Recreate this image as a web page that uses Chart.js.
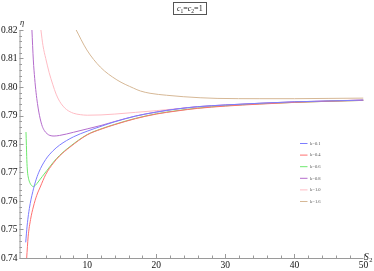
<!DOCTYPE html>
<html><head><meta charset="utf-8">
<script src="https://cdn.jsdelivr.net/npm/chart.js@4"></script>
<style>html,body{margin:0;padding:0;background:#fff;}#wrap{width:374px;height:271px;position:relative;}</style>
</head><body><div id="wrap"><canvas id="c" width="374" height="271"></canvas></div>
<script>
// ---- data ----
const seriesLabels = ['k=0.1', 'k=0.4', 'k=0.6', 'k=0.8', 'k=1.0', 'k=1.6'];
const titleParts = ['c', '1', '=', 'c', '2', '=1'];
const yAxisTitle = 'η';
const xAxisTitle = ['S', '2'];

const s2_k01  = [1.1, 1.3, 1.5, 1.75, 2.0, 2.5, 3.0, 4.0, 5.0, 6.0, 8.0, 10, 12, 14, 17, 20, 23, 26, 30, 35, 40, 45, 50];
const eta_k01 = [0.7455, 0.7512, 0.7553, 0.7591, 0.7620, 0.7667, 0.7701, 0.7746, 0.7775, 0.7796, 0.7825, 0.7845, 0.7862, 0.7878, 0.7898, 0.7912, 0.7923, 0.7931, 0.7937, 0.7943, 0.7948, 0.7951, 0.7954];

const s2_k04  = [1.24, 1.45, 1.8, 2.2, 2.7, 3.2, 4.0, 5.1, 6.0, 7.5, 10, 12, 14, 17, 20, 23, 26, 30, 35, 40, 45, 50];
const eta_k04 = [0.7400, 0.7474, 0.7535, 0.7579, 0.7620, 0.7649, 0.7693, 0.7733, 0.7758, 0.7789, 0.7832, 0.7852, 0.7868, 0.7889, 0.7905, 0.7916, 0.7925, 0.7933, 0.7940, 0.7946, 0.7950, 0.7953];

const s2_k06  = [1.14, 1.2, 1.26, 1.35, 1.5, 1.7, 2.0, 2.2, 2.5, 3.0, 3.5, 4.2, 5.1, 6.0, 7.5, 10, 12, 14, 17, 20, 23, 26, 30, 35, 40, 45, 50];
const eta_k06 = [0.7842, 0.7795, 0.7745, 0.7705, 0.7680, 0.7664, 0.7653, 0.7651, 0.7655, 0.7670, 0.7686, 0.7708, 0.7736, 0.7760, 0.7791, 0.7833, 0.7853, 0.7869, 0.7890, 0.7906, 0.7917, 0.7926, 0.7934, 0.7941, 0.7946, 0.7950, 0.7953];

const s2_k08  = [2.0, 2.2, 2.4, 2.6, 2.8, 3.0, 3.2, 3.5, 3.8, 4.2, 4.6, 5.2, 6.0, 7.0, 8.0, 10, 12, 14, 17, 20, 23, 26, 30, 35, 40, 45, 50];
const eta_k08 = [0.8200, 0.8095, 0.8030, 0.7980, 0.7942, 0.7912, 0.7888, 0.7862, 0.7847, 0.7836, 0.7830, 0.7828, 0.7830, 0.7835, 0.7841, 0.7853, 0.7865, 0.7879, 0.7898, 0.7912, 0.7923, 0.7931, 0.7937, 0.7943, 0.7948, 0.7951, 0.7954];

const s2_k10  = [3.3, 3.6, 4.0, 4.5, 5.0, 5.5, 6.0, 6.5, 7.0, 8.0, 9.0, 10, 12, 14, 17, 20, 25, 30, 35, 40, 45, 50];
const eta_k10 = [0.8200, 0.8145, 0.8100, 0.8050, 0.8010, 0.7975, 0.7950, 0.7933, 0.7921, 0.7908, 0.7903, 0.7901, 0.7902, 0.7905, 0.7911, 0.7917, 0.7928, 0.7936, 0.7942, 0.7947, 0.7951, 0.7955];

const s2_k16  = [8.3, 9.95, 11.9, 14.3, 16.7, 17.7, 19.1, 21.5, 23.9, 28.8, 35, 40, 45, 50];
const eta_k16 = [0.8205, 0.8130, 0.8070, 0.8025, 0.7996, 0.7986, 0.7978, 0.7971, 0.7966, 0.7960, 0.7959, 0.7959, 0.7960, 0.7961];

// ---- styles ----
const lineColors = ['#7d7dff', '#ff6f6f', '#6ee86e', '#b46ccc', '#ffbcc4', '#d6b896'];
const serif = '"Liberation Serif", "DejaVu Serif", serif';

function pts(xs, ys) { return xs.map((x, i) => ({x: x, y: ys[i]})); }
const xsAll = [s2_k01, s2_k04, s2_k06, s2_k08, s2_k10, s2_k16];
const ysAll = [eta_k01, eta_k04, eta_k06, eta_k08, eta_k10, eta_k16];

const datasets = seriesLabels.map((lab, i) => ({
  label: lab,
  data: pts(xsAll[i], ysAll[i]),
  showLine: true,
  borderColor: lineColors[i],
  backgroundColor: lineColors[i],
  borderWidth: 1,
  pointRadius: 0,
  cubicInterpolationMode: 'monotone',
  fill: false
}));

function isMult(v, step) { const r = v / step; return Math.abs(r - Math.round(r)) < 1e-6; }

const decor = {
  id: 'decor',
  afterDatasetsDraw(chart) {
    const ctx = chart.ctx, a = chart.chartArea;
    const xs = chart.scales.x, ys = chart.scales.y;
    ctx.save();
    ctx.strokeStyle = '#9a9a9a';
    ctx.lineWidth = 1;
    ctx.beginPath();
    ctx.moveTo(a.left, a.bottom + 0.5); ctx.lineTo(a.right, a.bottom + 0.5);
    ctx.moveTo(a.left + 0.5, a.bottom); ctx.lineTo(a.left + 0.5, a.top);
    ctx.stroke();
    ctx.beginPath();
    xs.ticks.forEach(t => {
      if (!isMult(t.value, 2)) return;
      const len = isMult(t.value, 10) ? 4 : 2.5;
      const px = Math.round(xs.getPixelForValue(t.value)) + 0.5;
      ctx.moveTo(px, a.bottom); ctx.lineTo(px, a.bottom - len);
    });
    ys.ticks.forEach(t => {
      if (!isMult(t.value, 0.002)) return;
      const len = isMult(t.value, 0.01) ? 4 : 2.5;
      const py = Math.round(ys.getPixelForValue(t.value)) + 0.5;
      ctx.moveTo(a.left, py); ctx.lineTo(a.left + len, py);
    });
    ctx.stroke();

    ctx.fillStyle = '#222';
    ctx.textBaseline = 'alphabetic';
    ctx.textAlign = 'left';
    ctx.font = 'italic 8.5px ' + serif;
    ctx.fillText(yAxisTitle, a.left + 0.5, 24.5);
    ctx.font = 'italic 9.5px ' + serif;
    ctx.fillText(xAxisTitle[0], 364, 259.5);
    ctx.font = '6.5px ' + serif;
    ctx.fillText(xAxisTitle[1], 369.3, 262);

    ctx.strokeStyle = '#555';
    ctx.lineWidth = 1;
    ctx.strokeRect(173.5, 2.5, 33, 12);
    let x = 177;
    const base = 11.3;
    titleParts.forEach((p) => {
      if (p === 'c') { ctx.font = 'italic 8px ' + serif; ctx.fillText(p, x, base); x += ctx.measureText(p).width; }
      else if (p === '1' || p === '2') { ctx.font = '5.5px ' + serif; ctx.fillText(p, x, base + 1.8); x += ctx.measureText(p).width; }
      else { ctx.font = '8px ' + serif; ctx.fillText(p, x, base); x += ctx.measureText(p).width; }
    });

    ctx.textBaseline = 'middle';
    ctx.font = '4.6px ' + serif;
    chart.data.datasets.forEach((ds, i) => {
      const y = 143.5 + i * 11.6;
      ctx.strokeStyle = ds.borderColor;
      ctx.lineWidth = 1;
      ctx.beginPath(); ctx.moveTo(300, y); ctx.lineTo(307.5, y); ctx.stroke();
      ctx.fillStyle = '#555';
      ctx.fillText(ds.label, 310, y);
    });
    ctx.restore();
  }
};

new Chart(document.getElementById('c').getContext('2d'), {
  type: 'scatter',
  data: { datasets: datasets },
  options: {
    responsive: false,
    animation: false,
    devicePixelRatio: 1,
    layout: { padding: { top: 30, right: 10.5, left: 0, bottom: 0 } },
    plugins: { legend: { display: false }, tooltip: { enabled: false }, title: { display: false } },
    scales: {
      x: {
        type: 'linear', position: 'bottom', min: 0.2, max: 50,
        grid: { display: false, drawTicks: false },
        border: { display: false },
        ticks: {
          stepSize: 2, autoSkip: false, maxRotation: 0, padding: 1.5,
          font: { family: serif, size: 9.5 }, color: '#111',
          callback: (v) => isMult(v, 10) ? String(Math.round(v)) : ''
        },
        afterFit: (s) => { s.height = 13; }
      },
      y: {
        type: 'linear', position: 'left', min: 0.74, max: 0.82,
        grid: { display: false, drawTicks: false },
        border: { display: false },
        ticks: {
          stepSize: 0.002, autoSkip: false, padding: 2,
          font: { family: serif, size: 9.5 }, color: '#111',
          callback: (v) => isMult(v, 0.01) ? v.toFixed(2) : ''
        },
        afterFit: (s) => { s.width = 19.5; }
      }
    }
  },
  plugins: [decor]
});
</script>
</body></html>
